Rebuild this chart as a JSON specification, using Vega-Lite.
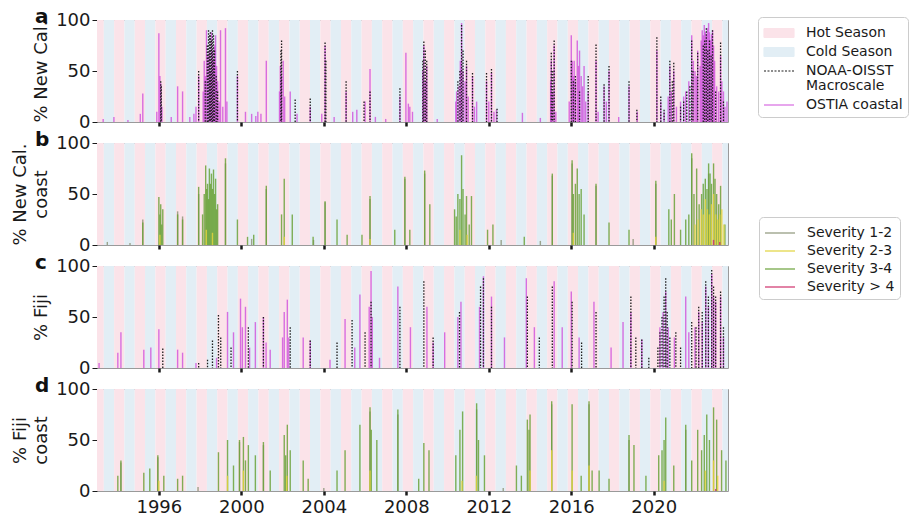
{
"$schema": "https://vega.github.io/schema/vega-lite/v6.json",
"padding": {"left": 11, "top": 6, "right": 0, "bottom": 0},
"background": "white",
"config": {
 "font": "DejaVu Sans",
 "view": {"stroke": "#9a9a9a", "strokeWidth": 1},
 "axis": {"labelFont": "DejaVu Sans", "titleFont": "DejaVu Sans", "labelFontSize": 18, "titleFontSize": 18, "labelColor": "#1a1a1a", "titleColor": "#1a1a1a", "titleFontWeight": "normal", "domain": false, "grid": false, "tickColor": "#1a1a1a"},
 "axisY": {"tickSize": 5, "labelPadding": 2, "titlePadding": 5, "titleLineHeight": 21, "labelFlush": false},
 "axisX": {"tickSize": 4, "tickWidth": 2.5, "labelPadding": 3, "labelFlush": false},
 "title": {"font": "DejaVu Sans", "fontSize": 20, "fontWeight": "bold", "color": "#111", "anchor": "start", "frame": "group", "dx": -62, "offset": -16}
},
"datasets": {
 "seasons": [
  {"s": "Hot Season", "a": 1992.83, "b": 1993.33}, {"s": "Cold Season", "a": 1993.33, "b": 1993.83},
  {"s": "Hot Season", "a": 1993.83, "b": 1994.33}, {"s": "Cold Season", "a": 1994.33, "b": 1994.83},
  {"s": "Hot Season", "a": 1994.83, "b": 1995.33}, {"s": "Cold Season", "a": 1995.33, "b": 1995.83},
  {"s": "Hot Season", "a": 1995.83, "b": 1996.33}, {"s": "Cold Season", "a": 1996.33, "b": 1996.83},
  {"s": "Hot Season", "a": 1996.83, "b": 1997.33}, {"s": "Cold Season", "a": 1997.33, "b": 1997.83},
  {"s": "Hot Season", "a": 1997.83, "b": 1998.33}, {"s": "Cold Season", "a": 1998.33, "b": 1998.83},
  {"s": "Hot Season", "a": 1998.83, "b": 1999.33}, {"s": "Cold Season", "a": 1999.33, "b": 1999.83},
  {"s": "Hot Season", "a": 1999.83, "b": 2000.33}, {"s": "Cold Season", "a": 2000.33, "b": 2000.83},
  {"s": "Hot Season", "a": 2000.83, "b": 2001.33}, {"s": "Cold Season", "a": 2001.33, "b": 2001.83},
  {"s": "Hot Season", "a": 2001.83, "b": 2002.33}, {"s": "Cold Season", "a": 2002.33, "b": 2002.83},
  {"s": "Hot Season", "a": 2002.83, "b": 2003.33}, {"s": "Cold Season", "a": 2003.33, "b": 2003.83},
  {"s": "Hot Season", "a": 2003.83, "b": 2004.33}, {"s": "Cold Season", "a": 2004.33, "b": 2004.83},
  {"s": "Hot Season", "a": 2004.83, "b": 2005.33}, {"s": "Cold Season", "a": 2005.33, "b": 2005.83},
  {"s": "Hot Season", "a": 2005.83, "b": 2006.33}, {"s": "Cold Season", "a": 2006.33, "b": 2006.83},
  {"s": "Hot Season", "a": 2006.83, "b": 2007.33}, {"s": "Cold Season", "a": 2007.33, "b": 2007.83},
  {"s": "Hot Season", "a": 2007.83, "b": 2008.33}, {"s": "Cold Season", "a": 2008.33, "b": 2008.83},
  {"s": "Hot Season", "a": 2008.83, "b": 2009.33}, {"s": "Cold Season", "a": 2009.33, "b": 2009.83},
  {"s": "Hot Season", "a": 2009.83, "b": 2010.33}, {"s": "Cold Season", "a": 2010.33, "b": 2010.83},
  {"s": "Hot Season", "a": 2010.83, "b": 2011.33}, {"s": "Cold Season", "a": 2011.33, "b": 2011.83},
  {"s": "Hot Season", "a": 2011.83, "b": 2012.33}, {"s": "Cold Season", "a": 2012.33, "b": 2012.83},
  {"s": "Hot Season", "a": 2012.83, "b": 2013.33}, {"s": "Cold Season", "a": 2013.33, "b": 2013.83},
  {"s": "Hot Season", "a": 2013.83, "b": 2014.33}, {"s": "Cold Season", "a": 2014.33, "b": 2014.83},
  {"s": "Hot Season", "a": 2014.83, "b": 2015.33}, {"s": "Cold Season", "a": 2015.33, "b": 2015.83},
  {"s": "Hot Season", "a": 2015.83, "b": 2016.33}, {"s": "Cold Season", "a": 2016.33, "b": 2016.83},
  {"s": "Hot Season", "a": 2016.83, "b": 2017.33}, {"s": "Cold Season", "a": 2017.33, "b": 2017.83},
  {"s": "Hot Season", "a": 2017.83, "b": 2018.33}, {"s": "Cold Season", "a": 2018.33, "b": 2018.83},
  {"s": "Hot Season", "a": 2018.83, "b": 2019.33}, {"s": "Cold Season", "a": 2019.33, "b": 2019.83},
  {"s": "Hot Season", "a": 2019.83, "b": 2020.33}, {"s": "Cold Season", "a": 2020.33, "b": 2020.83},
  {"s": "Hot Season", "a": 2020.83, "b": 2021.33}, {"s": "Cold Season", "a": 2021.33, "b": 2021.83},
  {"s": "Hot Season", "a": 2021.83, "b": 2022.33}, {"s": "Cold Season", "a": 2022.33, "b": 2022.83},
  {"s": "Hot Season", "a": 2022.83, "b": 2023.33}, {"s": "Cold Season", "a": 2023.33, "b": 2023.83}
 ],
 "nc_ostia": [
  {"t":1993.3,"v":3},{"t":1993.82,"v":5},{"t":1994.5,"v":2},{"t":1995.1,"v":8},{"t":1995.22,"v":28},{"t":1995.9,"v":10},{"t":1996.0,"v":87},{"t":1996.05,"v":45},{"t":1996.09,"v":38},{"t":1996.15,"v":15},{"t":1996.6,"v":5},{"t":1996.91,"v":35},{"t":1997.15,"v":30},{"t":1997.5,"v":5},{"t":1997.7,"v":8},{"t":1997.8,"v":15},{"t":1997.93,"v":45},{"t":1998.15,"v":30},{"t":1998.2,"v":60},{"t":1998.25,"v":45},{"t":1998.31,"v":90},{"t":1998.38,"v":65},{"t":1998.45,"v":70},{"t":1998.5,"v":50},{"t":1998.55,"v":88},{"t":1998.6,"v":70},{"t":1998.65,"v":60},{"t":1998.7,"v":75},{"t":1998.75,"v":85},{"t":1998.8,"v":55},{"t":1998.85,"v":40},{"t":1998.92,"v":20},{"t":1998.99,"v":90},{"t":1999.1,"v":15},{"t":1999.23,"v":92},{"t":1999.3,"v":20},{"t":1999.81,"v":45},{"t":2000.2,"v":10},{"t":2000.5,"v":8},{"t":2000.7,"v":6},{"t":2000.8,"v":10},{"t":2000.95,"v":8},{"t":2001.21,"v":60},{"t":2001.85,"v":30},{"t":2001.89,"v":55},{"t":2001.95,"v":45},{"t":2002.03,"v":60},{"t":2002.1,"v":25},{"t":2002.37,"v":30},{"t":2002.7,"v":8},{"t":2003.34,"v":15},{"t":2003.9,"v":8},{"t":2004.06,"v":75},{"t":2004.5,"v":5},{"t":2005.08,"v":30},{"t":2005.4,"v":10},{"t":2005.6,"v":12},{"t":2006.0,"v":20},{"t":2006.24,"v":52},{"t":2006.5,"v":5},{"t":2007.0,"v":3},{"t":2007.69,"v":25},{"t":2007.98,"v":68},{"t":2008.1,"v":18},{"t":2008.17,"v":15},{"t":2008.3,"v":10},{"t":2008.8,"v":50},{"t":2008.85,"v":75},{"t":2008.92,"v":40},{"t":2008.99,"v":55},{"t":2009.5,"v":3},{"t":2010.4,"v":20},{"t":2010.44,"v":30},{"t":2010.55,"v":35},{"t":2010.62,"v":60},{"t":2010.68,"v":97},{"t":2010.75,"v":50},{"t":2010.85,"v":40},{"t":2010.92,"v":55},{"t":2011.0,"v":25},{"t":2011.21,"v":45},{"t":2011.3,"v":15},{"t":2011.41,"v":20},{"t":2011.89,"v":40},{"t":2012.0,"v":20},{"t":2012.13,"v":48},{"t":2012.25,"v":10},{"t":2012.37,"v":12},{"t":2013.63,"v":9},{"t":2014.5,"v":4},{"t":2015.0,"v":40},{"t":2015.03,"v":60},{"t":2015.1,"v":30},{"t":2015.17,"v":75},{"t":2015.25,"v":10},{"t":2015.9,"v":20},{"t":2016.0,"v":85},{"t":2016.05,"v":60},{"t":2016.1,"v":45},{"t":2016.14,"v":60},{"t":2016.2,"v":40},{"t":2016.29,"v":80},{"t":2016.35,"v":55},{"t":2016.4,"v":70},{"t":2016.48,"v":45},{"t":2016.55,"v":35},{"t":2016.62,"v":55},{"t":2016.7,"v":20},{"t":2016.82,"v":30},{"t":2017.2,"v":60},{"t":2017.3,"v":10},{"t":2017.59,"v":35},{"t":2017.7,"v":20},{"t":2017.83,"v":50},{"t":2018.3,"v":5},{"t":2018.8,"v":35},{"t":2019.2,"v":10},{"t":2020.15,"v":70},{"t":2020.34,"v":20},{"t":2020.5,"v":10},{"t":2020.7,"v":25},{"t":2020.78,"v":55},{"t":2020.85,"v":30},{"t":2020.97,"v":50},{"t":2021.1,"v":15},{"t":2021.3,"v":20},{"t":2021.45,"v":25},{"t":2021.55,"v":30},{"t":2021.7,"v":40},{"t":2021.84,"v":85},{"t":2021.92,"v":60},{"t":2022.0,"v":50},{"t":2022.07,"v":45},{"t":2022.13,"v":70},{"t":2022.25,"v":55},{"t":2022.3,"v":80},{"t":2022.35,"v":90},{"t":2022.4,"v":85},{"t":2022.45,"v":95},{"t":2022.5,"v":88},{"t":2022.55,"v":85},{"t":2022.6,"v":92},{"t":2022.66,"v":97},{"t":2022.7,"v":88},{"t":2022.75,"v":80},{"t":2022.8,"v":86},{"t":2022.85,"v":90},{"t":2022.9,"v":75},{"t":2022.95,"v":60},{"t":2023.05,"v":35},{"t":2023.15,"v":30},{"t":2023.24,"v":65},{"t":2023.3,"v":40},{"t":2023.38,"v":30},{"t":2023.45,"v":15},{"t":2023.55,"v":20}
 ],
 "nc_noaa": [
  {"t":1996.09,"v":40},{"t":1996.12,"v":35},{"t":1997.93,"v":50},{"t":1998.25,"v":40},{"t":1998.35,"v":75},{"t":1998.41,"v":90},{"t":1998.46,"v":85},{"t":1998.5,"v":88},{"t":1998.55,"v":80},{"t":1998.6,"v":90},{"t":1998.65,"v":85},{"t":1998.7,"v":70},{"t":1998.78,"v":45},{"t":1998.85,"v":30},{"t":1999.81,"v":50},{"t":2001.92,"v":70},{"t":2001.95,"v":80},{"t":2002.61,"v":22},{"t":2003.34,"v":23},{"t":2004.06,"v":78},{"t":2004.1,"v":60},{"t":2005.08,"v":40},{"t":2005.95,"v":20},{"t":2006.24,"v":30},{"t":2007.69,"v":33},{"t":2008.8,"v":60},{"t":2008.85,"v":79},{"t":2008.92,"v":70},{"t":2008.99,"v":60},{"t":2010.5,"v":40},{"t":2010.6,"v":50},{"t":2010.68,"v":95},{"t":2010.75,"v":70},{"t":2010.92,"v":60},{"t":2011.21,"v":48},{"t":2011.89,"v":48},{"t":2012.13,"v":52},{"t":2012.4,"v":13},{"t":2015.03,"v":68},{"t":2015.1,"v":50},{"t":2015.17,"v":80},{"t":2016.0,"v":60},{"t":2016.1,"v":40},{"t":2016.2,"v":45},{"t":2016.4,"v":30},{"t":2016.82,"v":45},{"t":2017.2,"v":76},{"t":2017.59,"v":37},{"t":2017.83,"v":55},{"t":2018.8,"v":40},{"t":2019.18,"v":12},{"t":2020.15,"v":83},{"t":2020.34,"v":25},{"t":2020.5,"v":12},{"t":2020.78,"v":60},{"t":2020.9,"v":40},{"t":2020.97,"v":58},{"t":2021.3,"v":15},{"t":2021.45,"v":20},{"t":2021.6,"v":30},{"t":2021.75,"v":35},{"t":2021.84,"v":80},{"t":2021.9,"v":50},{"t":2022.13,"v":68},{"t":2022.4,"v":75},{"t":2022.47,"v":80},{"t":2022.55,"v":92},{"t":2022.62,"v":70},{"t":2022.7,"v":80},{"t":2022.78,"v":65},{"t":2022.85,"v":90},{"t":2023.0,"v":30},{"t":2023.24,"v":78},{"t":2023.38,"v":20}
 ],
 "ncc_s12": [
  {"t":1993.5,"v":3},{"t":1994.6,"v":2},{"t":1995.22,"v":25},{"t":1996.91,"v":33},{"t":1997.15,"v":28},{"t":1997.93,"v":50},{"t":1999.23,"v":80},{"t":2000.5,"v":6},{"t":2001.21,"v":55},{"t":2003.5,"v":5},{"t":2004.06,"v":42},{"t":2006.24,"v":45},{"t":2007.93,"v":65},{"t":2008.89,"v":70},{"t":2012.6,"v":5},{"t":2014.5,"v":4},{"t":2015.08,"v":68},{"t":2016.04,"v":80},{"t":2017.2,"v":58},{"t":2019.0,"v":6},{"t":2020.1,"v":60},{"t":2021.84,"v":85},{"t":2022.66,"v":70}
 ],
 "ncc_s34": [
  {"t":1995.22,"v":22},{"t":1996.0,"v":47},{"t":1996.05,"v":30},{"t":1996.09,"v":40},{"t":1996.14,"v":20},{"t":1996.19,"v":35},{"t":1996.91,"v":30},{"t":1997.15,"v":25},{"t":1997.93,"v":57},{"t":1998.12,"v":30},{"t":1998.2,"v":50},{"t":1998.27,"v":78},{"t":1998.32,"v":55},{"t":1998.36,"v":60},{"t":1998.41,"v":45},{"t":1998.45,"v":75},{"t":1998.5,"v":60},{"t":1998.55,"v":70},{"t":1998.6,"v":55},{"t":1998.65,"v":74},{"t":1998.7,"v":50},{"t":1998.75,"v":65},{"t":1998.8,"v":35},{"t":1998.85,"v":40},{"t":1999.23,"v":85},{"t":1999.81,"v":25},{"t":2000.3,"v":8},{"t":2000.6,"v":10},{"t":2001.21,"v":58},{"t":2001.95,"v":30},{"t":2002.08,"v":65},{"t":2002.47,"v":30},{"t":2003.48,"v":8},{"t":2004.06,"v":43},{"t":2004.64,"v":25},{"t":2005.13,"v":10},{"t":2005.85,"v":10},{"t":2006.24,"v":48},{"t":2007.44,"v":15},{"t":2007.93,"v":67},{"t":2008.17,"v":15},{"t":2008.89,"v":73},{"t":2009.14,"v":40},{"t":2010.34,"v":35},{"t":2010.42,"v":28},{"t":2010.5,"v":50},{"t":2010.6,"v":45},{"t":2010.68,"v":88},{"t":2010.75,"v":55},{"t":2010.85,"v":30},{"t":2010.92,"v":48},{"t":2011.05,"v":20},{"t":2011.16,"v":48},{"t":2011.94,"v":15},{"t":2012.2,"v":20},{"t":2013.72,"v":8},{"t":2015.08,"v":70},{"t":2016.04,"v":83},{"t":2016.1,"v":50},{"t":2016.2,"v":60},{"t":2016.29,"v":75},{"t":2016.38,"v":50},{"t":2016.48,"v":55},{"t":2016.62,"v":30},{"t":2017.2,"v":60},{"t":2017.83,"v":22},{"t":2018.8,"v":15},{"t":2020.1,"v":63},{"t":2020.73,"v":35},{"t":2020.85,"v":25},{"t":2021.0,"v":50},{"t":2021.3,"v":15},{"t":2021.55,"v":25},{"t":2021.7,"v":30},{"t":2021.84,"v":90},{"t":2021.95,"v":50},{"t":2022.08,"v":75},{"t":2022.2,"v":40},{"t":2022.32,"v":50},{"t":2022.4,"v":60},{"t":2022.5,"v":65},{"t":2022.58,"v":55},{"t":2022.66,"v":80},{"t":2022.73,"v":70},{"t":2022.8,"v":60},{"t":2022.9,"v":80},{"t":2022.97,"v":65},{"t":2023.05,"v":50},{"t":2023.15,"v":40},{"t":2023.24,"v":58},{"t":2023.45,"v":20}
 ],
 "ncc_s23": [
  {"t":1996.05,"v":10},{"t":1998.3,"v":15},{"t":1998.6,"v":12},{"t":2002.08,"v":8},{"t":2006.24,"v":6},{"t":2010.6,"v":15},{"t":2010.95,"v":10},{"t":2016.1,"v":12},{"t":2020.1,"v":8},{"t":2022.0,"v":20},{"t":2022.15,"v":25},{"t":2022.3,"v":35},{"t":2022.4,"v":30},{"t":2022.5,"v":45},{"t":2022.6,"v":35},{"t":2022.7,"v":30},{"t":2022.8,"v":40},{"t":2022.9,"v":50},{"t":2023.0,"v":30},{"t":2023.1,"v":25},{"t":2023.2,"v":30},{"t":2023.3,"v":35},{"t":2023.4,"v":20}
 ],
 "ncc_s4": [
  {"t":2022.9,"v":5},{"t":2023.2,"v":3}
 ],
 "fj_ostia": [
  {"t":1993.1,"v":5},{"t":1994.01,"v":15},{"t":1994.16,"v":35},{"t":1995.27,"v":18},{"t":1995.61,"v":20},{"t":1996.0,"v":38},{"t":1996.91,"v":18},{"t":1997.15,"v":15},{"t":1997.8,"v":5},{"t":1998.8,"v":10},{"t":1999.33,"v":55},{"t":1999.62,"v":35},{"t":1999.96,"v":68},{"t":2000.05,"v":40},{"t":2000.2,"v":60},{"t":2000.4,"v":20},{"t":2000.68,"v":45},{"t":2001.07,"v":50},{"t":2001.2,"v":25},{"t":2001.4,"v":18},{"t":2002.0,"v":30},{"t":2002.08,"v":55},{"t":2002.23,"v":67},{"t":2002.3,"v":30},{"t":2003.0,"v":30},{"t":2003.34,"v":27},{"t":2004.3,"v":8},{"t":2005.03,"v":48},{"t":2005.5,"v":20},{"t":2005.75,"v":72},{"t":2006.2,"v":60},{"t":2006.29,"v":95},{"t":2006.35,"v":50},{"t":2006.7,"v":10},{"t":2007.59,"v":80},{"t":2008.2,"v":40},{"t":2009.0,"v":60},{"t":2009.3,"v":25},{"t":2009.86,"v":35},{"t":2010.5,"v":50},{"t":2010.65,"v":65},{"t":2011.55,"v":60},{"t":2011.74,"v":90},{"t":2012.13,"v":70},{"t":2012.76,"v":30},{"t":2013.82,"v":88},{"t":2014.21,"v":40},{"t":2015.17,"v":85},{"t":2015.56,"v":40},{"t":2016.0,"v":75},{"t":2016.38,"v":30},{"t":2017.1,"v":65},{"t":2017.93,"v":20},{"t":2018.51,"v":45},{"t":2018.89,"v":55},{"t":2019.42,"v":28},{"t":2020.3,"v":40},{"t":2020.45,"v":55},{"t":2020.58,"v":75},{"t":2020.7,"v":40},{"t":2021.0,"v":30},{"t":2021.55,"v":70},{"t":2021.7,"v":35},{"t":2022.0,"v":40},{"t":2022.18,"v":55},{"t":2022.35,"v":45},{"t":2022.52,"v":80},{"t":2022.65,"v":60},{"t":2022.81,"v":92},{"t":2022.9,"v":70},{"t":2023.0,"v":65},{"t":2023.24,"v":70},{"t":2023.38,"v":30}
 ],
 "fj_noaa": [
  {"t":1996.19,"v":19},{"t":1997.93,"v":5},{"t":1998.36,"v":8},{"t":1998.6,"v":27},{"t":1998.89,"v":52},{"t":1999.0,"v":30},{"t":1999.5,"v":20},{"t":2000.34,"v":40},{"t":2001.07,"v":50},{"t":2002.37,"v":40},{"t":2003.34,"v":27},{"t":2004.64,"v":25},{"t":2005.37,"v":47},{"t":2006.0,"v":35},{"t":2006.29,"v":65},{"t":2007.69,"v":60},{"t":2008.85,"v":85},{"t":2009.3,"v":30},{"t":2010.58,"v":55},{"t":2011.6,"v":80},{"t":2011.74,"v":88},{"t":2012.13,"v":60},{"t":2013.87,"v":70},{"t":2014.45,"v":30},{"t":2015.08,"v":80},{"t":2016.04,"v":65},{"t":2016.5,"v":25},{"t":2017.2,"v":55},{"t":2018.89,"v":70},{"t":2019.13,"v":30},{"t":2019.42,"v":28},{"t":2019.76,"v":10},{"t":2020.2,"v":20},{"t":2020.3,"v":35},{"t":2020.4,"v":50},{"t":2020.5,"v":70},{"t":2020.58,"v":88},{"t":2020.65,"v":55},{"t":2020.78,"v":30},{"t":2021.07,"v":35},{"t":2021.3,"v":20},{"t":2021.84,"v":45},{"t":2022.05,"v":40},{"t":2022.18,"v":60},{"t":2022.35,"v":55},{"t":2022.52,"v":85},{"t":2022.65,"v":70},{"t":2022.81,"v":96},{"t":2022.9,"v":80},{"t":2023.0,"v":70},{"t":2023.24,"v":75},{"t":2023.38,"v":40}
 ],
 "fjc_s12": [
  {"t":1994.16,"v":28},{"t":1995.95,"v":33},{"t":1997.9,"v":4},{"t":1999.91,"v":48},{"t":2001.07,"v":45},{"t":2004.0,"v":3},{"t":2006.24,"v":78},{"t":2007.59,"v":75},{"t":2011.41,"v":80},{"t":2012.7,"v":3},{"t":2015.05,"v":85},{"t":2016.86,"v":85},{"t":2018.8,"v":50},{"t":2021.55,"v":60}
 ],
 "fjc_s34": [
  {"t":1994.01,"v":15},{"t":1994.16,"v":30},{"t":1995.27,"v":18},{"t":1995.56,"v":22},{"t":1995.95,"v":35},{"t":1996.24,"v":15},{"t":1996.91,"v":12},{"t":1997.15,"v":15},{"t":1998.89,"v":38},{"t":1999.33,"v":50},{"t":1999.62,"v":25},{"t":1999.91,"v":50},{"t":2000.1,"v":53},{"t":2000.2,"v":30},{"t":2000.34,"v":45},{"t":2000.68,"v":35},{"t":2001.07,"v":48},{"t":2001.4,"v":20},{"t":2002.08,"v":55},{"t":2002.15,"v":35},{"t":2002.23,"v":65},{"t":2002.37,"v":40},{"t":2003.0,"v":30},{"t":2003.24,"v":12},{"t":2004.64,"v":20},{"t":2005.03,"v":40},{"t":2005.75,"v":65},{"t":2006.24,"v":82},{"t":2006.3,"v":60},{"t":2006.57,"v":50},{"t":2007.59,"v":80},{"t":2008.6,"v":12},{"t":2008.85,"v":47},{"t":2009.1,"v":40},{"t":2010.4,"v":35},{"t":2010.6,"v":60},{"t":2010.73,"v":78},{"t":2011.41,"v":86},{"t":2011.5,"v":50},{"t":2011.79,"v":35},{"t":2013.34,"v":25},{"t":2013.58,"v":15},{"t":2013.87,"v":70},{"t":2013.95,"v":60},{"t":2014.0,"v":75},{"t":2015.05,"v":88},{"t":2016.04,"v":85},{"t":2016.48,"v":15},{"t":2016.86,"v":88},{"t":2017.01,"v":20},{"t":2017.35,"v":20},{"t":2017.83,"v":12},{"t":2018.8,"v":55},{"t":2019.04,"v":45},{"t":2019.62,"v":15},{"t":2020.24,"v":35},{"t":2020.4,"v":40},{"t":2020.5,"v":50},{"t":2020.58,"v":72},{"t":2020.97,"v":25},{"t":2021.55,"v":65},{"t":2021.84,"v":30},{"t":2022.13,"v":60},{"t":2022.32,"v":40},{"t":2022.45,"v":55},{"t":2022.57,"v":75},{"t":2022.7,"v":50},{"t":2022.9,"v":82},{"t":2023.05,"v":70},{"t":2023.29,"v":40},{"t":2023.5,"v":30}
 ],
 "fjc_s23": [
  {"t":1996.0,"v":10},{"t":1999.33,"v":15},{"t":2000.1,"v":20},{"t":2002.2,"v":15},{"t":2006.24,"v":20},{"t":2010.7,"v":10},{"t":2011.4,"v":15},{"t":2014.0,"v":20},{"t":2015.05,"v":40},{"t":2016.04,"v":20},{"t":2016.86,"v":25},{"t":2020.5,"v":10},{"t":2022.5,"v":20},{"t":2022.9,"v":30},{"t":2023.1,"v":15}
 ],
 "fjc_s4": [
  {"t":2023.0,"v":2}
 ]
},
"vconcat": [
 {
  "width": 631, "height": 102,
  "title": {"text": "a"},
  "layer": [
   {"data": {"name": "seasons"}, "mark": {"type": "rect", "clip": true},
    "encoding": {
     "x": {"field": "a", "type": "quantitative", "scale": {"domain": [1993, 2023.6], "nice": false, "zero": false}, "axis": {"title": null, "labels": false, "values": [1996, 2000, 2004, 2008, 2012, 2016, 2020]}},
     "x2": {"field": "b"},
     "color": {"field": "s", "type": "nominal",
      "scale": {"domain": ["Hot Season", "Cold Season", "NOAA-OISST Macroscale", "OSTIA coastal"], "range": ["#fbe3e9", "#e2eef5", "#1c1c1c", "#cf4fdc"]},
      "legend": {"orient": "none", "legendX": 661, "legendY": -3, "title": null, "strokeColor": "#cccccc", "fillColor": "white", "cornerRadius": 4, "padding": 5, "labelFont": "DejaVu Sans", "labelFontSize": 14, "labelColor": "#1a1a1a", "rowPadding": 1, "symbolSize": 400, "labelOffset": 21, "labelLimit": 300,
       "labelExpr": "datum.label == 'NOAA-OISST Macroscale' ? ['NOAA-OISST', 'Macroscale'] : datum.label",
       "encode": {
        "labels": {"update": {"lineHeight": {"value": 15}}},
        "symbols": {"update": {
        "shape": {"signal": "datum.value == 'Hot Season' || datum.value == 'Cold Season' ? 'M-1,-0.45H2V0.45H-1Z' : 'M-1,0H2'"},
        "fill": {"signal": "datum.value == 'Hot Season' ? '#f8d3dd' : datum.value == 'Cold Season' ? '#d3e6f0' : 'transparent'"},
        "stroke": {"signal": "datum.value == 'NOAA-OISST Macroscale' ? '#333333' : datum.value == 'OSTIA coastal' ? '#e9a0ef' : 'transparent'"},
        "strokeDash": {"signal": "datum.value == 'NOAA-OISST Macroscale' ? [2, 1.5] : [1, 0]"},
        "strokeWidth": {"value": 1.2},
        "opacity": {"value": 1}
       }}}
      }
     }
    }
   },
   {"mark": {"type": "rule", "color": "#8a8a8a", "strokeWidth": 0.9}, "encoding": {"y": {"datum": 80, "type": "quantitative"}}},
   {"mark": {"type": "rule", "color": "#666666", "strokeWidth": 0.9, "strokeDash": [2, 1.5]}, "encoding": {"y": {"datum": 77, "type": "quantitative"}}},
   {"data": {"name": "nc_ostia"}, "mark": {"type": "rule", "clip": true, "strokeWidth": 1.4, "opacity": 0.8},
    "encoding": {
     "x": {"field": "t", "type": "quantitative"},
     "y": {"field": "v", "type": "quantitative", "scale": {"domain": [0, 100], "nice": false}, "axis": {"title": "% New Cal.", "values": [0, 50, 100]}},
     "y2": {"datum": 0},
     "color": {"datum": "OSTIA coastal", "type": "nominal"}
    }
   },
   {"data": {"name": "nc_noaa"}, "mark": {"type": "rule", "clip": true, "strokeWidth": 1.3, "strokeDash": [1.5, 1.5]},
    "encoding": {
     "x": {"field": "t", "type": "quantitative"},
     "y": {"field": "v", "type": "quantitative"},
     "y2": {"datum": 0},
     "color": {"datum": "NOAA-OISST Macroscale", "type": "nominal"}
    }
   }
  ]
 },
 {
  "width": 631, "height": 102,
  "title": {"text": "b"},
  "layer": [
   {"data": {"name": "seasons"}, "mark": {"type": "rect", "clip": true},
    "encoding": {
     "x": {"field": "a", "type": "quantitative", "scale": {"domain": [1993, 2023.6], "nice": false, "zero": false}, "axis": {"title": null, "labels": false, "values": [1996, 2000, 2004, 2008, 2012, 2016, 2020]}},
     "x2": {"field": "b"},
     "color": {"field": "s", "type": "nominal", "scale": {"domain": ["Hot Season", "Cold Season"], "range": ["#fbe3e9", "#e2eef5"]}, "legend": null}
    }
   },
   {"data": {"name": "ncc_s12"}, "mark": {"type": "rule", "clip": true, "strokeWidth": 1.4, "opacity": 0.85},
    "encoding": {
     "x": {"field": "t", "type": "quantitative"},
     "y": {"field": "v", "type": "quantitative", "scale": {"domain": [0, 100], "nice": false}, "axis": {"title": ["% New Cal.", "coast"], "values": [0, 50, 100]}},
     "y2": {"datum": 0},
     "stroke": {"datum": "Severity 1-2", "type": "nominal",
      "scale": {"domain": ["Severity 1-2", "Severity 2-3", "Severity 3-4", "Severity > 4"], "range": ["#8e977a", "#e2d43c", "#6ba23a", "#d0306b"]},
      "legend": {"orient": "none", "legendX": 662, "legendY": 74, "title": null, "strokeColor": "#cccccc", "fillColor": "white", "cornerRadius": 4, "padding": 5, "labelFont": "DejaVu Sans", "labelFontSize": 14, "labelColor": "#1a1a1a", "rowPadding": 0, "symbolType": "M-1,0H2", "symbolSize": 400, "symbolStrokeWidth": 1.4, "symbolOpacity": 0.45, "symbolFillColor": "transparent", "labelOffset": 21}
     }
    }
   },
   {"data": {"name": "ncc_s34"}, "mark": {"type": "rule", "clip": true, "strokeWidth": 1.4, "opacity": 0.85},
    "encoding": {"x": {"field": "t", "type": "quantitative"}, "y": {"field": "v", "type": "quantitative"}, "y2": {"datum": 0}, "stroke": {"datum": "Severity 3-4", "type": "nominal"}}},
   {"data": {"name": "ncc_s23"}, "mark": {"type": "rule", "clip": true, "strokeWidth": 1.4, "opacity": 0.85},
    "encoding": {"x": {"field": "t", "type": "quantitative"}, "y": {"field": "v", "type": "quantitative"}, "y2": {"datum": 0}, "stroke": {"datum": "Severity 2-3", "type": "nominal"}}},
   {"data": {"name": "ncc_s4"}, "mark": {"type": "rule", "clip": true, "strokeWidth": 1.4, "opacity": 0.85},
    "encoding": {"x": {"field": "t", "type": "quantitative"}, "y": {"field": "v", "type": "quantitative"}, "y2": {"datum": 0}, "stroke": {"datum": "Severity > 4", "type": "nominal"}}}
  ]
 },
 {
  "width": 631, "height": 102,
  "title": {"text": "c"},
  "layer": [
   {"data": {"name": "seasons"}, "mark": {"type": "rect", "clip": true},
    "encoding": {
     "x": {"field": "a", "type": "quantitative", "scale": {"domain": [1993, 2023.6], "nice": false, "zero": false}, "axis": {"title": null, "labels": false, "values": [1996, 2000, 2004, 2008, 2012, 2016, 2020]}},
     "x2": {"field": "b"},
     "color": {"field": "s", "type": "nominal", "scale": {"domain": ["Hot Season", "Cold Season", "NOAA-OISST Macroscale", "OSTIA coastal"], "range": ["#fbe3e9", "#e2eef5", "#1c1c1c", "#cf4fdc"]}, "legend": null}
    }
   },
   {"mark": {"type": "rule", "color": "#8a8a8a", "strokeWidth": 0.9}, "encoding": {"y": {"datum": 73, "type": "quantitative"}}},
   {"mark": {"type": "rule", "color": "#8a8a8a", "strokeWidth": 0.9}, "encoding": {"y": {"datum": 60, "type": "quantitative"}}},
   {"data": {"name": "fj_ostia"}, "mark": {"type": "rule", "clip": true, "strokeWidth": 1.4, "opacity": 0.8},
    "encoding": {
     "x": {"field": "t", "type": "quantitative"},
     "y": {"field": "v", "type": "quantitative", "scale": {"domain": [0, 100], "nice": false}, "axis": {"title": "% Fiji", "values": [0, 50, 100]}},
     "y2": {"datum": 0},
     "color": {"datum": "OSTIA coastal", "type": "nominal"}
    }
   },
   {"data": {"name": "fj_noaa"}, "mark": {"type": "rule", "clip": true, "strokeWidth": 1.3, "strokeDash": [1.5, 1.5]},
    "encoding": {
     "x": {"field": "t", "type": "quantitative"},
     "y": {"field": "v", "type": "quantitative"},
     "y2": {"datum": 0},
     "color": {"datum": "NOAA-OISST Macroscale", "type": "nominal"}
    }
   }
  ]
 },
 {
  "width": 631, "height": 102,
  "title": {"text": "d"},
  "layer": [
   {"data": {"name": "seasons"}, "mark": {"type": "rect", "clip": true},
    "encoding": {
     "x": {"field": "a", "type": "quantitative", "scale": {"domain": [1993, 2023.6], "nice": false, "zero": false}, "axis": {"title": null, "values": [1996, 2000, 2004, 2008, 2012, 2016, 2020], "format": "d"}},
     "x2": {"field": "b"},
     "color": {"field": "s", "type": "nominal", "scale": {"domain": ["Hot Season", "Cold Season"], "range": ["#fbe3e9", "#e2eef5"]}, "legend": null}
    }
   },
   {"data": {"name": "fjc_s12"}, "mark": {"type": "rule", "clip": true, "strokeWidth": 1.4, "opacity": 0.85},
    "encoding": {
     "x": {"field": "t", "type": "quantitative"},
     "y": {"field": "v", "type": "quantitative", "scale": {"domain": [0, 100], "nice": false}, "axis": {"title": ["% Fiji", "coast"], "values": [0, 50, 100]}},
     "y2": {"datum": 0},
     "stroke": {"datum": "Severity 1-2", "type": "nominal", "scale": {"domain": ["Severity 1-2", "Severity 2-3", "Severity 3-4", "Severity > 4"], "range": ["#8e977a", "#e2d43c", "#6ba23a", "#d0306b"]}, "legend": null}
    }
   },
   {"data": {"name": "fjc_s34"}, "mark": {"type": "rule", "clip": true, "strokeWidth": 1.4, "opacity": 0.85},
    "encoding": {"x": {"field": "t", "type": "quantitative"}, "y": {"field": "v", "type": "quantitative"}, "y2": {"datum": 0}, "stroke": {"datum": "Severity 3-4", "type": "nominal"}}},
   {"data": {"name": "fjc_s23"}, "mark": {"type": "rule", "clip": true, "strokeWidth": 1.4, "opacity": 0.85},
    "encoding": {"x": {"field": "t", "type": "quantitative"}, "y": {"field": "v", "type": "quantitative"}, "y2": {"datum": 0}, "stroke": {"datum": "Severity 2-3", "type": "nominal"}}},
   {"data": {"name": "fjc_s4"}, "mark": {"type": "rule", "clip": true, "strokeWidth": 1.4, "opacity": 0.85},
    "encoding": {"x": {"field": "t", "type": "quantitative"}, "y": {"field": "v", "type": "quantitative"}, "y2": {"datum": 0}, "stroke": {"datum": "Severity > 4", "type": "nominal"}}}
  ]
 }
],
"spacing": 21,
"bounds": "flush",
"resolve": {"scale": {"color": "independent", "stroke": "independent"}, "legend": {"color": "independent", "stroke": "independent"}}
}
